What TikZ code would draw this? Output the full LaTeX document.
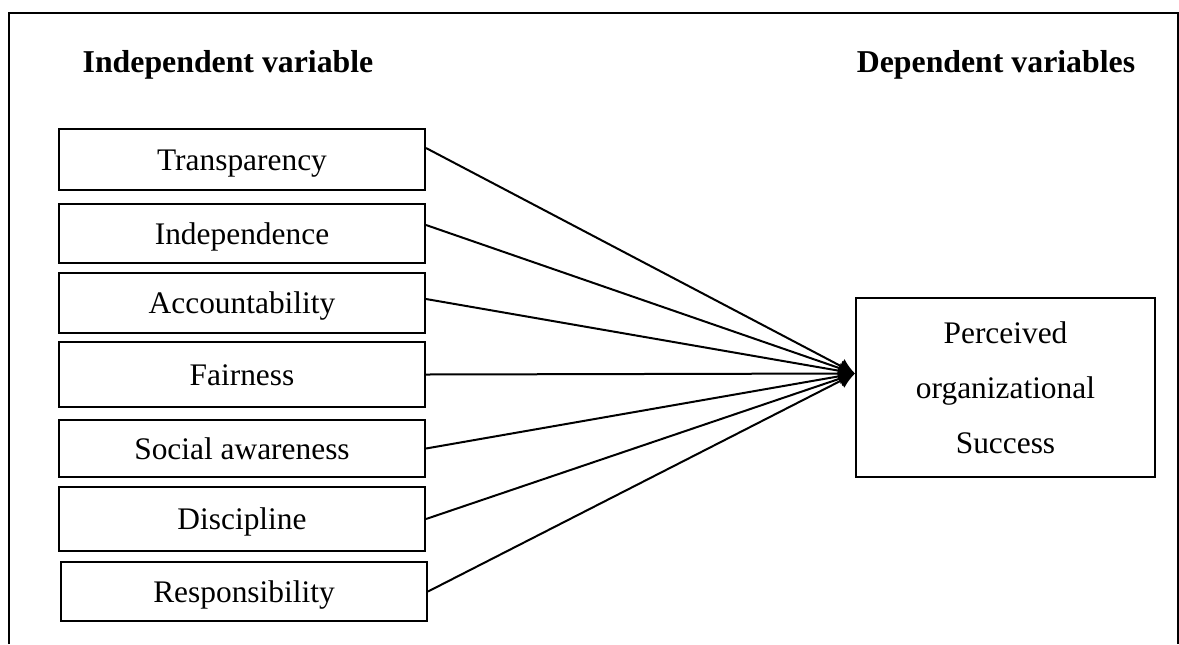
\documentclass[tikz,border=0pt]{standalone}
\usepackage{fontspec}
\setmainfont{Liberation Serif}
\usetikzlibrary{arrows.meta}
\begin{document}
\begin{tikzpicture}[x=0.5pt, y=-0.5pt]
	\tikzset{cadre/.style={rectangle, draw=black, line width=1pt, minimum width=183pt, inner sep=0pt, text height=14pt, text depth=3.5pt, font=\fontsize{15.7}{19}\selectfont}, trait/.style={line width=1pt, -{Latex[length=8pt, width=8pt]}}, titre/.style={anchor=base, font=\fontsize{15.9}{19}\selectfont\bfseries}};

	\useasboundingbox (0,0) rectangle (1179,644);
	\draw[line width=0.8pt] (9,644) -- (9,13) -- (1178,13) -- (1178,644);

	\node[titre] (gauche) at (228,72) {Independent variable};
	\node[titre] (droite) at (996,72) {Dependent variables};

	\node[cadre, minimum height=30.5pt] (transp)  at (242,159.5) {Transparency};
	\node[cadre, minimum height=29.5pt] (indep)   at (242,233.5) {Independence};
	\node[cadre, minimum height=30pt]   (account) at (242,303)   {Accountability};
	\node[cadre, minimum height=32.5pt] (fair)    at (242,374.5) {Fairness};
	\node[cadre, minimum height=28.5pt] (social)  at (242,448.5) {Social awareness};
	\node[cadre, minimum height=32pt]   (disc)    at (242,519)   {Discipline};
	\node[cadre, minimum height=29.5pt] (resp)    at (244,591.5) {Responsibility};

	\node[cadre, minimum width=149.5pt, minimum height=89.5pt, text height=, text depth=, align=center, font=\fontsize{15.7}{27.5}\selectfont] (succes) at (1005.5,387.5) {Perceived\\organizational\\Success};
	\coordinate (pointe) at ([yshift=7pt]succes.west);

	\draw[trait] ([yshift=5.75pt]transp.east) to (pointe);
	\draw[trait] ([yshift=4.25pt]indep.east) to (pointe);
	\draw[trait] ([yshift=2pt]account.east) to (pointe);
	\draw[trait] (fair.east) to (pointe);
	\draw[trait] (social.east) to (pointe);
	\draw[trait] (disc.east) to (pointe);
	\draw[trait] (resp.east) to (pointe);

\end{tikzpicture}
\end{document}
